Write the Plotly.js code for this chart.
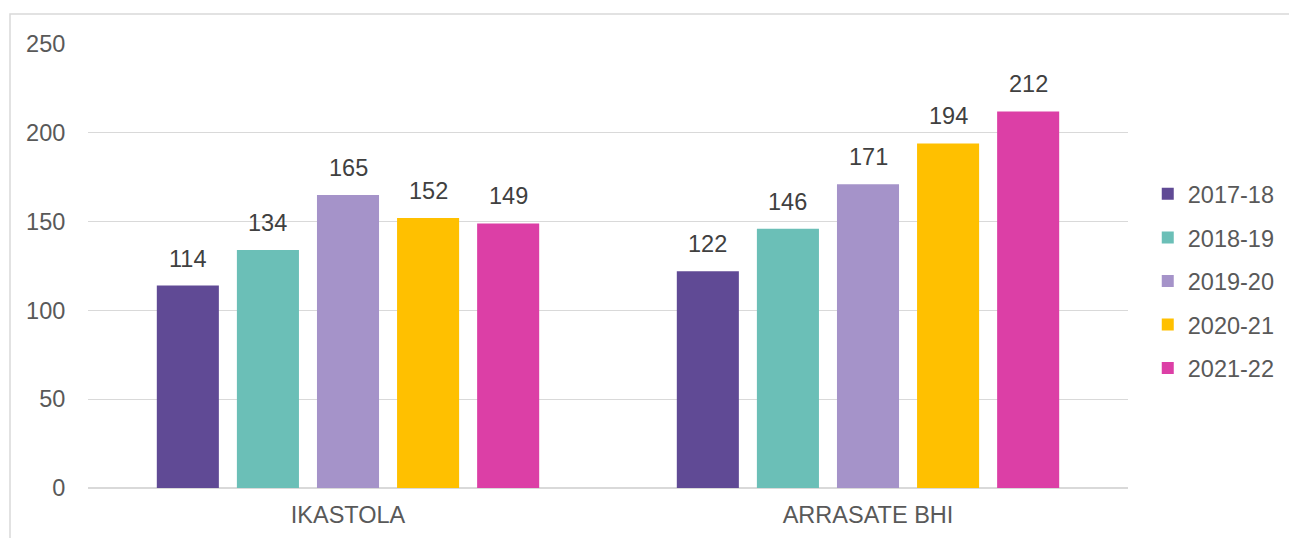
<!DOCTYPE html>
<html>
<head>
<meta charset="utf-8">
<script src="https://cdn.plot.ly/plotly-3.0.1.min.js"></script>
<style>
html,body{margin:0;padding:0;background:#fff;}
#chart{width:1289px;height:538px;}
</style>
</head>
<body>
<div id="chart"></div>
<script>
const categories = ["IKASTOLA", "ARRASATE BHI"];
const seriesNames = ["2017-18", "2018-19", "2019-20", "2020-21", "2021-22"];
const v2017_18 = [114, 122];
const v2018_19 = [134, 146];
const v2019_20 = [165, 171];
const v2020_21 = [152, 194];
const v2021_22 = [149, 212];
const seriesValues = [v2017_18, v2018_19, v2019_20, v2020_21, v2021_22];
const colors = ["#604A95", "#6BBFB7", "#A593C9", "#FFC000", "#DC3FA6"];

const FONT = "Liberation Sans, Arial, sans-serif";
const FS = 23.5;
const BARGAP = 0.23;

const traces = seriesNames.map((name, i) => ({
  type: "bar",
  name: name,
  x: categories,
  y: seriesValues[i],
  marker: {color: colors[i]},
  legendgroup: "g" + i,
  hoverinfo: "x+y+name"
}));

// data labels as annotations placed via the axes' own scales
const nS = seriesNames.length;
const slot = (1 - BARGAP) / nS;
const annotations = [];
seriesValues.forEach((vals, i) => {
  vals.forEach((v, j) => {
    annotations.push({
      xref: "x", yref: "y",
      x: j + (i - (nS - 1) / 2) * slot,
      y: v,
      text: String(v),
      showarrow: false,
      yanchor: "bottom",
      yshift: 12,
      font: {family: FONT, size: FS, color: "#404040"}
    });
  });
});

const layout = {
  width: 1289, height: 538,
  margin: {l: 88, r: 161, t: 44, b: 50, autoexpand: false},
  paper_bgcolor: "#fff", plot_bgcolor: "#fff",
  font: {family: FONT, size: FS, color: "#595959"},
  barmode: "group",
  bargap: BARGAP,
  bargroupgap: 0.225,
  showlegend: true,
  legend: {
    x: 1.019, xanchor: "left", y: 0.466, yanchor: "middle",
    font: {family: FONT, size: FS, color: "#595959"},
    tracegroupgap: 10,
    traceorder: "grouped",
    itemwidth: 30
  },
  xaxis: {
    type: "category",
    range: [-0.5, 1.5],
    showgrid: false, zeroline: false, showline: false,
    ticks: "outside", ticklen: 6, tickcolor: "rgba(0,0,0,0)",
    tickfont: {family: FONT, size: FS, color: "#595959"}
  },
  yaxis: {
    range: [0, 250], tickvals: [0, 50, 100, 150, 200, 250],
    showgrid: true, gridcolor: "#d9d9d9", gridwidth: 1.3,
    zeroline: true, zerolinecolor: "#d9d9d9", zerolinewidth: 1.3,
    showline: false,
    ticks: "outside", ticklen: 17, tickcolor: "rgba(0,0,0,0)",
    tickfont: {family: FONT, size: FS, color: "#595959"}
  },
  annotations: annotations,
  shapes: [{
    type: "rect", xref: "paper", yref: "paper",
    x0: -0.075, x1: 1.3, y0: -0.2, y1: 1.0676,
    line: {color: "#d9d9d9", width: 1.5}, layer: "below"
  }]
};

Plotly.newPlot("chart", traces, layout, {displayModeBar: false, staticPlot: true});
</script>
</body>
</html>
